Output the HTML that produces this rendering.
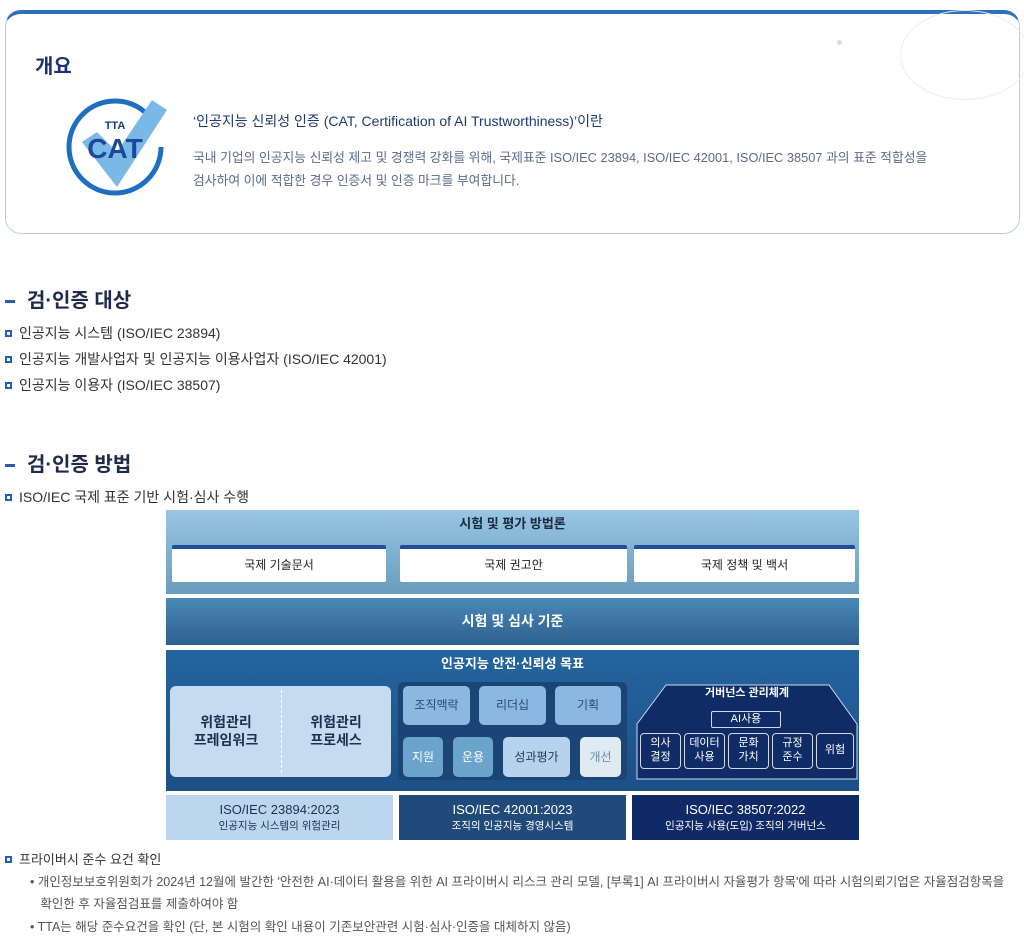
<!DOCTYPE html>
<html><head><meta charset="utf-8"><style>
*{margin:0;padding:0;box-sizing:border-box}
body{width:1024px;height:941px;background:#fff;position:relative;overflow:hidden;font-family:"Liberation Sans","Noto Sans CJK KR",sans-serif;}
.a{position:absolute;white-space:nowrap}
.c{position:absolute;display:flex;align-items:center;justify-content:center;text-align:center;line-height:1.25}
.v{flex-direction:column}
.h{font-size:20px;font-weight:bold;color:#1e2a4a}
.h i{display:inline-block;width:10px;height:3px;background:#2a5db0;vertical-align:middle;margin-right:12px;margin-left:5px}
.b{font-size:14px;color:#333}
.b i{display:inline-block;width:7px;height:7px;border:2px solid #1f5fc0;margin-right:7px;margin-left:5px;vertical-align:1px}
.s{font-size:12.5px;color:#555;line-height:22px}
</style></head><body>
<div class="a" style="left:5px;top:10px;width:1015px;height:224px;border:1px solid #b8cde6;border-top:4px solid #2f6fb8;border-radius:16px;"></div>
<div class="a" style="left:900px;top:10px;width:130px;height:90px;border:1px solid #e6eef7;border-radius:50%;"></div>
<div class="a" style="left:837px;top:40px;width:5px;height:5px;border-radius:50%;background:#cfe0f0"></div>
<div class="a" style="left:35px;top:50px;font-size:20px;font-weight:bold;color:#1a3370">개요</div>
<svg class="a" style="left:62px;top:92px" width="110" height="110" viewBox="0 0 110 110">
<circle cx="53" cy="55" r="46" fill="none" stroke="#1f6fc0" stroke-width="5" stroke-dasharray="250 40"/>
<polygon points="20,50 55,95 105,18 90,8 55,60 35,40" fill="#7ab8e8"/>
<text x="53" y="37" font-size="11" font-weight="bold" fill="#1a3a80" text-anchor="middle" font-family="Liberation Sans">TTA</text>
<text x="53" y="66" font-size="28" font-weight="bold" fill="#1a4a9a" text-anchor="middle" font-family="Liberation Sans">CAT</text>
</svg>
<div class="a" style="left:193px;top:111px;font-size:14px;color:#1f3a6e">‘인공지능 신뢰성 인증 (CAT, Certification of AI Trustworthiness)’이란</div>
<div class="a" style="left:193px;top:146px;font-size:12.8px;color:#5a6a8a;line-height:23px">국내 기업의 인공지능 신뢰성 제고 및 경쟁력 강화를 위해, 국제표준 ISO/IEC 23894, ISO/IEC 42001, ISO/IEC 38507 과의 표준 적합성을<br>검사하여 이에 적합한 경우 인증서 및 인증 마크를 부여합니다.</div>

<div class="a h" style="left:0;top:284px"><i></i>검·인증 대상</div>
<div class="a b" style="left:0;top:323px"><i></i>인공지능 시스템 (ISO/IEC 23894)</div>
<div class="a b" style="left:0;top:349px"><i></i>인공지능 개발사업자 및 인공지능 이용사업자 (ISO/IEC 42001)</div>
<div class="a b" style="left:0;top:375px"><i></i>인공지능 이용자 (ISO/IEC 38507)</div>
<div class="a h" style="left:0;top:448px"><i></i>검·인증 방법</div>
<div class="a b" style="left:0;top:487px"><i></i>ISO/IEC 국제 표준 기반 시험·심사 수행</div>

<!-- diagram -->
<div class="a" style="left:166px;top:510px;width:693px;height:84px;background:linear-gradient(#98c6e4,#6a9cbc)"></div>
<div class="c" style="left:166px;top:512px;width:693px;height:24px;font-size:13px;font-weight:bold;color:#1a2a40">시험 및 평가 방법론</div>
<div class="c" style="left:172px;top:545px;width:214px;height:37px;background:#fff;border-top:4px solid #1f4e9a;border-radius:2px;font-size:12px;color:#222">국제 기술문서</div>
<div class="c" style="left:400px;top:545px;width:227px;height:37px;background:#fff;border-top:4px solid #1f4e9a;border-radius:2px;font-size:12px;color:#222">국제 권고안</div>
<div class="c" style="left:634px;top:545px;width:221px;height:37px;background:#fff;border-top:4px solid #1f4e9a;border-radius:2px;font-size:12px;color:#222">국제 정책 및 백서</div>
<div class="c" style="left:166px;top:598px;width:693px;height:47px;background:linear-gradient(#4a88b8,#2d6090);color:#fff;font-size:14px;font-weight:bold">시험 및 심사 기준</div>
<div class="a" style="left:166px;top:650px;width:693px;height:141px;background:linear-gradient(#2565a0,#1c4f86)"></div>
<div class="c" style="left:166px;top:653px;width:693px;height:22px;color:#fff;font-size:13px;font-weight:bold">인공지능 안전·신뢰성 목표</div>
<div class="a" style="left:170px;top:686px;width:221px;height:91px;background:#c5dcf0;border-radius:6px"></div>
<div class="a" style="left:281px;top:690px;height:83px;border-left:1px dashed #fff"></div>
<div class="c" style="left:172px;top:686px;width:108px;height:91px;font-size:14px;font-weight:bold;color:#1e3050">위험관리<br>프레임워크</div>
<div class="c" style="left:282px;top:686px;width:108px;height:91px;font-size:14px;font-weight:bold;color:#1e3050">위험관리<br>프로세스</div>
<div class="a" style="left:398px;top:682px;width:229px;height:98px;background:#1a4575;border-radius:5px"></div>
<div class="c" style="left:403px;top:686px;width:67px;height:39px;background:#8ab8e0;border-radius:5px;font-size:12px;color:#2a4a70">조직맥락</div>
<div class="c" style="left:479px;top:686px;width:67px;height:39px;background:#8ab8e0;border-radius:5px;font-size:12px;color:#2a4a70">리더십</div>
<div class="c" style="left:555px;top:686px;width:66px;height:39px;background:#8ab8e0;border-radius:5px;font-size:12px;color:#2a4a70">기획</div>
<div class="c" style="left:403px;top:737px;width:40px;height:40px;background:#6aa4cc;border-radius:5px;font-size:12px;color:#fff">지원</div>
<div class="c" style="left:453px;top:737px;width:40px;height:40px;background:#6aa4cc;border-radius:5px;font-size:12px;color:#fff">운용</div>
<div class="c" style="left:503px;top:737px;width:67px;height:40px;background:#b5d3ec;border-radius:5px;font-size:12px;color:#2a3a50">성과평가</div>
<div class="c" style="left:580px;top:737px;width:41px;height:40px;background:#dfeaf3;border-radius:5px;font-size:12px;color:#6a8aa8">개선</div>
<svg class="a" style="left:636px;top:684px" width="222" height="96"><polygon points="30,1 193,1 221,40 221,95 1,95 1,40" fill="#0f2c66" stroke="#cfd8e8" stroke-width="1"/></svg>
<div class="c" style="left:636px;top:686px;width:222px;height:16px;color:#fff;font-size:11px;font-weight:bold">거버넌스 관리체계</div>
<div class="c" style="left:711px;top:711px;width:70px;height:17px;border:1px solid #cfd8e8;border-radius:2px;color:#fff;font-size:11px">AI사용</div>
<div class="c" style="left:640px;top:733px;width:41px;height:36px;border:1px solid #cfd8e8;border-radius:4px;color:#fff;font-size:11px">의사<br>결정</div>
<div class="c" style="left:684px;top:733px;width:41px;height:36px;border:1px solid #cfd8e8;border-radius:4px;color:#fff;font-size:11px">데이터<br>사용</div>
<div class="c" style="left:728px;top:733px;width:41px;height:36px;border:1px solid #cfd8e8;border-radius:4px;color:#fff;font-size:11px">문화<br>가치</div>
<div class="c" style="left:772px;top:733px;width:41px;height:36px;border:1px solid #cfd8e8;border-radius:4px;color:#fff;font-size:11px">규정<br>준수</div>
<div class="c" style="left:816px;top:733px;width:38px;height:36px;border:1px solid #cfd8e8;border-radius:4px;color:#fff;font-size:11px">위험</div>
<div class="c v" style="left:166px;top:795px;width:227px;height:45px;background:#bcd6ee;color:#1e3050;font-size:13px;line-height:16px"><div>ISO/IEC 23894:2023</div><div style="font-size:10.5px">인공지능 시스템의 위험관리</div></div>
<div class="c v" style="left:399px;top:795px;width:227px;height:45px;background:#1f4a7a;color:#fff;font-size:13px;line-height:16px"><div>ISO/IEC 42001:2023</div><div style="font-size:10.5px">조직의 인공지능 경영시스템</div></div>
<div class="c v" style="left:632px;top:795px;width:227px;height:45px;background:#0f2a66;color:#fff;font-size:13px;line-height:16px"><div>ISO/IEC 38507:2022</div><div style="font-size:10.5px">인공지능 사용(도입) 조직의 거버넌스</div></div>

<div class="a b" style="left:0;top:849px;font-size:13px"><i></i>프라이버시 준수 요건 확인</div>
<div class="a s" style="left:30px;top:871px">• 개인정보보호위원회가 2024년 12월에 발간한 '안전한 AI·데이터 활용을 위한 AI 프라이버시 리스크 관리 모델, [부록1] AI 프라이버시 자율평가 항목'에 따라 시험의뢰기업은 자율점검항목을<br>&nbsp;&nbsp;&nbsp;확인한 후 자율점검표를 제출하여야 함</div>
<div class="a s" style="left:30px;top:916px">• TTA는 해당 준수요건을 확인 (단, 본 시험의 확인 내용이 기존보안관련 시험·심사·인증을 대체하지 않음)</div>
</body></html>
